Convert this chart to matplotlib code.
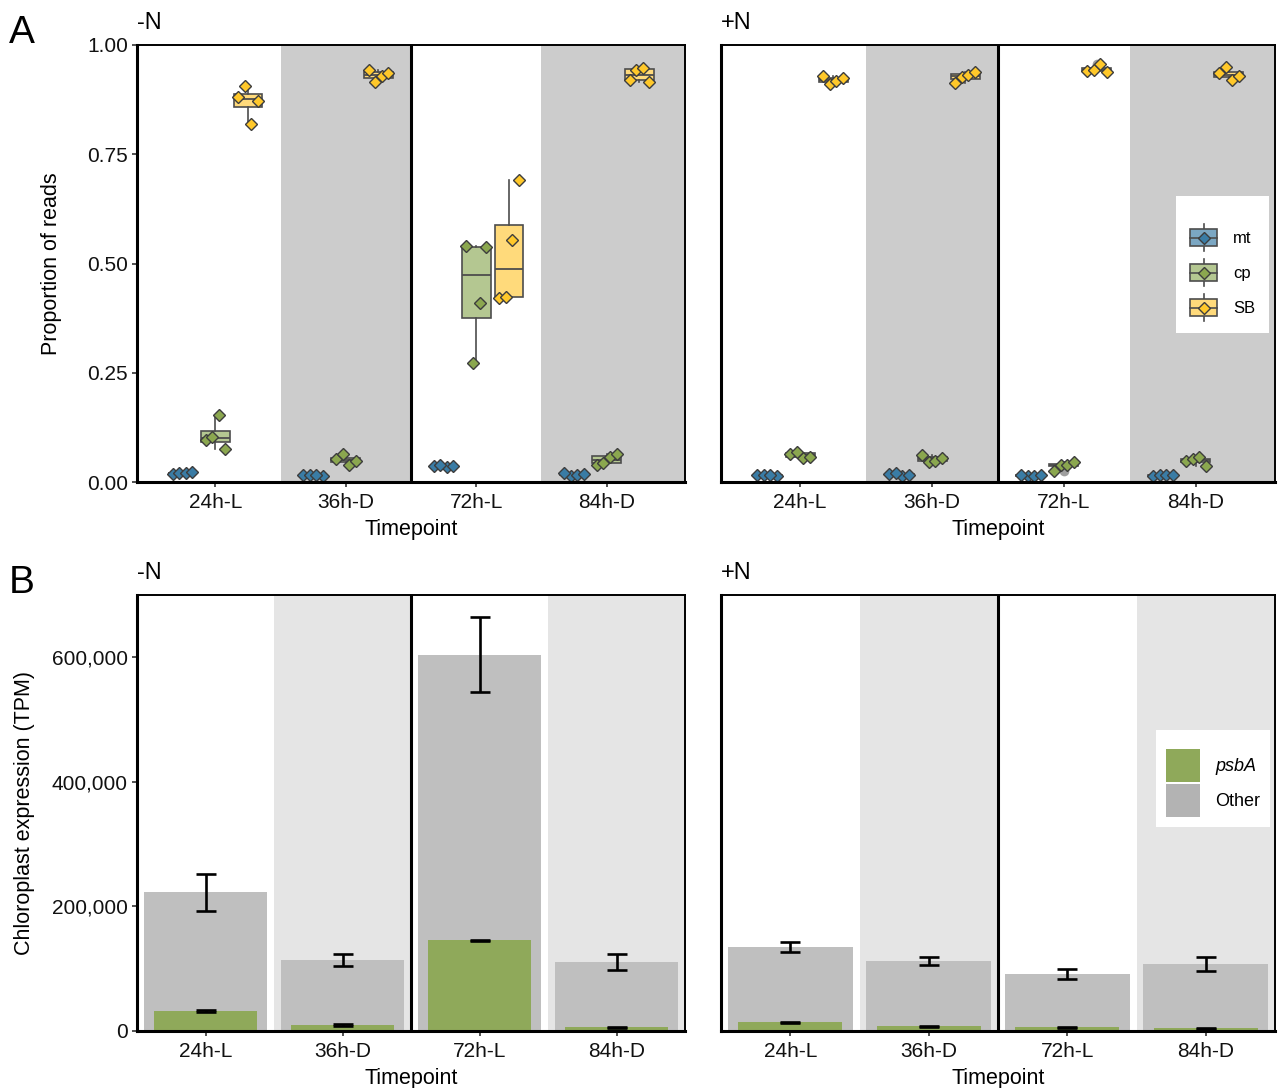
import numpy as np
import matplotlib
matplotlib.use("Agg")
import matplotlib.pyplot as plt
from matplotlib.patches import Patch, Rectangle
from matplotlib.lines import Line2D
from matplotlib.legend_handler import HandlerBase
from matplotlib.ticker import FuncFormatter

plt.rcParams['font.family'] = ['Liberation Sans', 'DejaVu Sans']

# ---- data ----
timepoints = ["24h-L", "36h-D", "72h-L", "84h-D"]
fractions = ["mt", "cp", "SB"]

# proportion of reads, 4 replicates per timepoint
mt_minusN = [[0.019, 0.020, 0.021, 0.022], [0.014, 0.015, 0.016, 0.017],
             [0.035, 0.036, 0.037, 0.038], [0.014, 0.016, 0.018, 0.020]]
cp_minusN = [[0.075, 0.096, 0.104, 0.154], [0.040, 0.048, 0.053, 0.065],
             [0.272, 0.410, 0.538, 0.540], [0.039, 0.044, 0.058, 0.063]]
sb_minusN = [[0.820, 0.872, 0.880, 0.907], [0.915, 0.928, 0.936, 0.942],
             [0.422, 0.424, 0.553, 0.691], [0.916, 0.921, 0.943, 0.948]]

mt_plusN = [[0.014, 0.015, 0.016, 0.017], [0.014, 0.016, 0.018, 0.020],
            [0.013, 0.014, 0.015, 0.016], [0.014, 0.015, 0.016, 0.017]]
cp_plusN = [[0.055, 0.058, 0.065, 0.068], [0.046, 0.049, 0.055, 0.062],
            [0.026, 0.039, 0.040, 0.046], [0.036, 0.049, 0.052, 0.058]]
sb_plusN = [[0.910, 0.918, 0.924, 0.928], [0.912, 0.927, 0.932, 0.938],
            [0.938, 0.941, 0.943, 0.956], [0.921, 0.928, 0.935, 0.950]]

# chloroplast expression (TPM), mean and error
psba_minusN = [32000, 9600, 145600, 6400]
psba_err_minusN = [1200, 900, 1000, 800]
other_minusN = [222400, 113600, 604000, 110400]
other_err_minusN = [30400, 9600, 60000, 12800]

psba_plusN = [13900, 8000, 6400, 4800]
psba_err_plusN = [1200, 800, 800, 800]
other_plusN = [134400, 112800, 91700, 107700]
other_err_plusN = [8000, 6100, 7450, 10650]

# ---- style ----
BOX_FILL = {"mt": "#7BA7C3", "cp": "#B4C791", "SB": "#FFDA7B"}
DOT = {"mt": "#3A7CA5", "cp": "#8BA74F", "SB": "#FFC82A"}
EDGE = "#4D4D4D"
JITTER = np.array([-0.075, -0.025, 0.025, 0.075])
GREEN = "#8FA95A"
GRAY_BAR = "#BFBFBF"
DIAMOND_MS = 6.2

W, H = 1278, 1088
fig = plt.figure(figsize=(W / 100, H / 100), dpi=100)


def px_axes(x0, y0, x1, y1):
    return fig.add_axes([x0 / W, 1 - y1 / H, (x1 - x0) / W, (y1 - y0) / H])


def ftext(x, y, s, **kw):
    fig.text(x / W, 1 - y / H, s, **kw)


def style_axes(ax, show_y):
    for side in ["left", "bottom"]:
        ax.spines[side].set_linewidth(2.2)
    for side in ["top", "right"]:
        ax.spines[side].set_linewidth(1.4)
    for sp in ax.spines.values():
        sp.set_color("black")
        sp.set_zorder(6)
    ax.tick_params(axis="both", length=3.6, width=1.2, color="#333333",
                   labelsize=15, pad=3, labelcolor="#111111")
    ax.tick_params(axis="x", pad=4.5)
    ax.set_xticks(np.arange(1, len(timepoints) + 1))
    ax.set_xticklabels(timepoints)
    if not show_y:
        ax.tick_params(axis="y", left=False, labelleft=False)
    ax.axvline(2.5, color="black", lw=2.2, zorder=5)


def shade(ax, color, right):
    for i, tp in enumerate(timepoints):
        if tp.endswith("D"):
            hi = right if i == len(timepoints) - 1 else i + 1.5
            ax.axvspan(i + 0.5, hi, color=color, lw=0, zorder=0)


def draw_props(ax, data, cond, show_y):
    ax.set_xlim(0.4, 4.6)
    ax.set_ylim(0, 1)
    shade(ax, "#CCCCCC", 4.6)
    for k, frac in enumerate(fractions):
        vals = data[frac]
        pos = np.arange(1, 5) + (k - 1) * 0.25
        ax.boxplot(vals, positions=pos, widths=0.22, patch_artist=True,
                   showcaps=False, manage_ticks=False, zorder=2,
                   boxprops=dict(facecolor=BOX_FILL[frac], edgecolor=EDGE, lw=1.2),
                   medianprops=dict(color=EDGE, lw=1.3),
                   whiskerprops=dict(color=EDGE, lw=1.2),
                   flierprops=dict(marker="o", markerfacecolor="#7F7F7F",
                                   markeredgecolor="none", alpha=0.75, ms=7))
        for t, (p, v) in enumerate(zip(pos, vals)):
            off = np.roll(JITTER, t + k + cond)
            ax.plot(p + off, v, ls="none", marker="D", ms=DIAMOND_MS, mfc=DOT[frac],
                    mec="#3D3D3D", mew=1.0, zorder=4)
    style_axes(ax, show_y)
    ax.set_yticks([0, 0.25, 0.5, 0.75, 1.0])
    ax.yaxis.set_major_formatter(FuncFormatter(lambda v, p: f"{v:.2f}"))


def draw_expr(ax, psba, psba_err, other, other_err, show_y):
    ax.set_xlim(0.5, 4.5)
    ax.set_ylim(0, 700000)
    shade(ax, "#E5E5E5", 4.5)
    x = np.arange(1, 5)
    ax.bar(x, other, width=0.9, color=GRAY_BAR, zorder=2)
    ax.errorbar(x, other, yerr=other_err, fmt="none", ecolor="black",
                elinewidth=1.9, capsize=7.5, capthick=1.9, zorder=3)
    ax.bar(x, psba, width=0.75, color=GREEN, zorder=4)
    ax.errorbar(x, psba, yerr=psba_err, fmt="none", ecolor="black",
                elinewidth=1.9, capsize=7.5, capthick=1.9, zorder=4.5)
    style_axes(ax, show_y)
    ax.set_yticks([0, 200000, 400000, 600000])
    ax.yaxis.set_major_formatter(FuncFormatter(lambda v, p: f"{v:,.0f}"))


class BoxKey:
    def __init__(self, fill, dot):
        self.fill = fill
        self.dot = dot


class BoxKeyHandler(HandlerBase):
    # sizes in points
    def create_artists(self, legend, orig, xd, yd, width, height, fontsize, trans):
        cx = width / 2 - xd
        cy = height / 2 - yd
        bh = 12.2
        wh = 9.7
        whisk = Line2D([cx, cx], [cy - wh, cy + wh], color=EDGE, lw=1.2, transform=trans)
        box = Rectangle((-xd, cy - bh / 2), width, bh, facecolor=orig.fill,
                        edgecolor=EDGE, lw=1.2, transform=trans)
        med = Line2D([-xd, width - xd], [cy, cy], color=EDGE, lw=1.2, transform=trans)
        dot = Line2D([cx], [cy], marker="D", ms=DIAMOND_MS, mfc=orig.dot,
                     mec="#3D3D3D", mew=1.0, transform=trans)
        return [whisk, box, med, dot]


# ---- panel A ----
axA1 = px_axes(137, 45, 685, 482)
axA2 = px_axes(721, 45, 1275, 482)
draw_props(axA1, {"mt": mt_minusN, "cp": cp_minusN, "SB": sb_minusN}, 0, True)
draw_props(axA2, {"mt": mt_plusN, "cp": cp_plusN, "SB": sb_plusN}, 1, False)

keys = [BoxKey(BOX_FILL[f], DOT[f]) for f in fractions]
axA2.legend(keys, fractions, handler_map={BoxKey: BoxKeyHandler()},
            loc="upper left", bbox_to_anchor=(1176 / W, 1 - 196 / H),
            bbox_transform=fig.transFigure, fancybox=False, edgecolor="none",
            facecolor="white", framealpha=1, fontsize=12, handlelength=1.62,
            handleheight=1.7, labelspacing=0.75, handletextpad=0.95,
            borderpad=0.85, borderaxespad=0, title=" ", title_fontsize=2)

# ---- panel B ----
axB1 = px_axes(137, 595, 685, 1031)
axB2 = px_axes(721, 595, 1275, 1031)
draw_expr(axB1, psba_minusN, psba_err_minusN, other_minusN, other_err_minusN, True)
draw_expr(axB2, psba_plusN, psba_err_plusN, other_plusN, other_err_plusN, False)

legB = axB2.legend([Patch(facecolor=GREEN), Patch(facecolor="#B3B3B3")],
                   ["psbA", "Other"], loc="upper left",
                   bbox_to_anchor=(1156 / W, 1 - 730 / H),
                   bbox_transform=fig.transFigure, fancybox=False,
                   edgecolor="none", facecolor="white", framealpha=1,
                   fontsize=13, handlelength=1.89, handleheight=2.44,
                   labelspacing=0.11, handletextpad=0.85, borderpad=0.55,
                   borderaxespad=0, title=" ", title_fontsize=5)
legB.get_texts()[0].set_fontstyle("italic")

# ---- labels ----
lab = dict(fontsize=15.5, color="black")
for cx in (411, 998):
    ftext(cx, 535, "Timepoint", ha="center", va="baseline", **lab)
    ftext(cx, 1084, "Timepoint", ha="center", va="baseline", **lab)
ftext(52, 263.5, "Proportion of reads", rotation=90, ha="center", va="center", **lab)
ftext(25, 813, "Chloroplast expression (TPM)", rotation=90, ha="center", va="center", **lab)

ftext(137, 29, "-N", ha="left", va="baseline", fontsize=17)
ftext(721, 29, "+N", ha="left", va="baseline", fontsize=17)
ftext(137, 579, "-N", ha="left", va="baseline", fontsize=17)
ftext(721, 579, "+N", ha="left", va="baseline", fontsize=17)
ftext(9, 43, "A", ha="left", va="baseline", fontsize=28)
ftext(9, 593, "B", ha="left", va="baseline", fontsize=28)

fig.savefig("out.png", dpi=100)
